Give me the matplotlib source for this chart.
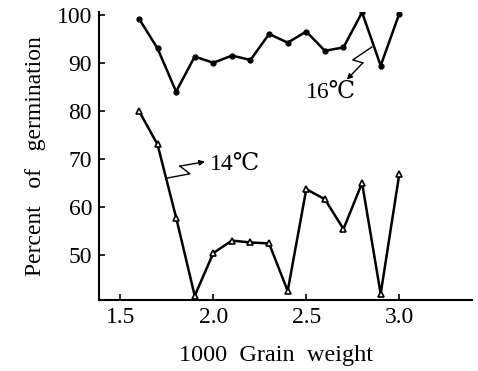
import matplotlib
matplotlib.use("Agg")
import matplotlib.pyplot as plt

grain_weight = [1.6, 1.7, 1.8, 1.9, 2.0, 2.1, 2.2, 2.3, 2.4, 2.5, 2.6, 2.7, 2.8, 2.9, 3.0]
germ_16C = [99.2, 93.0, 84.0, 91.3, 90.0, 91.5, 90.6, 96.0, 94.2, 96.5, 92.5, 93.2, 100.5, 89.4, 100.2]
germ_14C = [80.0, 73.0, 57.8, 41.5, 50.4, 53.0, 52.6, 52.4, 42.5, 63.7, 61.6, 55.4, 65.0, 41.9, 66.8]
xticks = [1.5, 2.0, 2.5, 3.0]
xticklabels = ["1.5", "2.0", "2.5", "3.0"]
yticks = [50, 60, 70, 80, 90, 100]

plt.rcParams['font.family'] = ['Liberation Serif', 'DejaVu Serif']

fig = plt.figure(figsize=(4.78, 3.71), dpi=100)
ax = fig.add_axes([0.207, 0.191, 0.78, 0.777])

ax.plot(grain_weight, germ_16C, color='black', lw=1.8, marker='o', ms=3.5,
        mfc='black', mec='black')
ax.plot(grain_weight, germ_14C, color='black', lw=1.8, marker='^', ms=4.5,
        mfc='white', mec='black', mew=1.2)

ax.set_xlim(1.385, 3.39)
ax.set_ylim(40.6, 100.6)
ax.set_xticks(xticks)
ax.set_xticklabels(xticklabels)
ax.set_yticks(yticks)
ax.tick_params(direction='in', length=4, width=1.2, labelsize=17, pad=5)
for s in ['top', 'right']:
    ax.spines[s].set_visible(False)
for s in ['left', 'bottom']:
    ax.spines[s].set_linewidth(1.5)

ax.set_xlabel("1000  Grain  weight", fontsize=17.5)
ax.xaxis.set_label_coords(0.475, -0.155)
ax.set_ylabel("Percent   of   germination", fontsize=17, labelpad=8)

# annotation zigzags
zz16_x = [2.853, 2.750, 2.804]
zz16_y = [93.3, 90.6, 90.0]
ax.plot(zz16_x, zz16_y, color='black', lw=1.0)
ax.annotate("", xy=(2.718, 86.5), xytext=(2.804, 90.0),
            arrowprops=dict(arrowstyle='-|>', color='black', lw=1.0,
                            mutation_scale=8, shrinkA=0, shrinkB=0))
ax.text(2.632, 83.8, "16℃", fontsize=17, ha='center', va='center')

zz14_x = [1.751, 1.874, 1.820]
zz14_y = [66.0, 66.9, 68.5]
ax.plot(zz14_x, zz14_y, color='black', lw=1.0)
ax.annotate("", xy=(1.955, 69.4), xytext=(1.820, 68.5),
            arrowprops=dict(arrowstyle='-|>', color='black', lw=1.0,
                            mutation_scale=8, shrinkA=0, shrinkB=0))
ax.text(2.115, 68.8, "14℃", fontsize=17, ha='center', va='center')

fig.savefig("out.png", dpi=100)
